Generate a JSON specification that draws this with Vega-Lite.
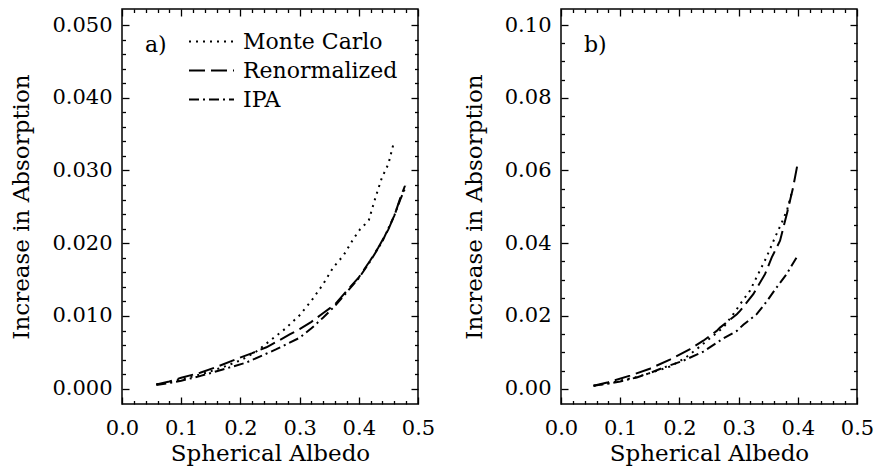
{
  "$schema": "https://vega.github.io/schema/vega-lite/v6.json",
  "background": "white",
  "padding": {"left": 10, "top": 7, "right": 5, "bottom": 0},
  "spacing": 143,
  "bounds": "flush",
  "config": {
    "view": {"stroke": "black", "strokeWidth": 1.5},
    "axis": {
      "grid": false,
      "domain": false,
      "tickColor": "black",
      "tickWidth": 1.3,
      "labelColor": "black",
      "titleColor": "black",
      "labelFont": "DejaVu Serif",
      "labelFontSize": 21,
      "titleFont": "DejaVu Serif",
      "titleFontSize": 23,
      "titleFontWeight": "normal",
      "labelOverlap": false,
      "labelFlush": false
    },
    "title": {"font": "DejaVu Serif", "fontSize": 22, "fontWeight": "normal", "color": "black"}
  },
  "datasets": {
    "a": [
      {"model": "Monte Carlo", "albedo": 0.058, "absorption": 0.0006},
      {"model": "Monte Carlo", "albedo": 0.08, "absorption": 0.0009},
      {"model": "Monte Carlo", "albedo": 0.10, "absorption": 0.0013},
      {"model": "Monte Carlo", "albedo": 0.125, "absorption": 0.0018},
      {"model": "Monte Carlo", "albedo": 0.15, "absorption": 0.0024},
      {"model": "Monte Carlo", "albedo": 0.175, "absorption": 0.0031},
      {"model": "Monte Carlo", "albedo": 0.20, "absorption": 0.0039},
      {"model": "Monte Carlo", "albedo": 0.225, "absorption": 0.0050},
      {"model": "Monte Carlo", "albedo": 0.25, "absorption": 0.0066},
      {"model": "Monte Carlo", "albedo": 0.275, "absorption": 0.0082},
      {"model": "Monte Carlo", "albedo": 0.30, "absorption": 0.0101},
      {"model": "Monte Carlo", "albedo": 0.32, "absorption": 0.0121},
      {"model": "Monte Carlo", "albedo": 0.34, "absorption": 0.0144},
      {"model": "Monte Carlo", "albedo": 0.357, "absorption": 0.0167},
      {"model": "Monte Carlo", "albedo": 0.374, "absorption": 0.0183},
      {"model": "Monte Carlo", "albedo": 0.391, "absorption": 0.0206},
      {"model": "Monte Carlo", "albedo": 0.402, "absorption": 0.0219},
      {"model": "Monte Carlo", "albedo": 0.413, "absorption": 0.0228},
      {"model": "Monte Carlo", "albedo": 0.417, "absorption": 0.0232},
      {"model": "Monte Carlo", "albedo": 0.429, "absorption": 0.0265},
      {"model": "Monte Carlo", "albedo": 0.439, "absorption": 0.0290},
      {"model": "Monte Carlo", "albedo": 0.450, "absorption": 0.0309},
      {"model": "Monte Carlo", "albedo": 0.459, "absorption": 0.0338},
      {"model": "Renormalized", "albedo": 0.058, "absorption": 0.0006},
      {"model": "Renormalized", "albedo": 0.08, "absorption": 0.0010},
      {"model": "Renormalized", "albedo": 0.10, "absorption": 0.0015},
      {"model": "Renormalized", "albedo": 0.132, "absorption": 0.0022},
      {"model": "Renormalized", "albedo": 0.16, "absorption": 0.0030},
      {"model": "Renormalized", "albedo": 0.194, "absorption": 0.0041},
      {"model": "Renormalized", "albedo": 0.22, "absorption": 0.0049},
      {"model": "Renormalized", "albedo": 0.244, "absorption": 0.0057},
      {"model": "Renormalized", "albedo": 0.26, "absorption": 0.0064},
      {"model": "Renormalized", "albedo": 0.284, "absorption": 0.0075},
      {"model": "Renormalized", "albedo": 0.30, "absorption": 0.0082},
      {"model": "Renormalized", "albedo": 0.32, "absorption": 0.0092},
      {"model": "Renormalized", "albedo": 0.34, "absorption": 0.0104},
      {"model": "Renormalized", "albedo": 0.36, "absorption": 0.0116},
      {"model": "Renormalized", "albedo": 0.38, "absorption": 0.0135},
      {"model": "Renormalized", "albedo": 0.40, "absorption": 0.0153},
      {"model": "Renormalized", "albedo": 0.419, "absorption": 0.0176},
      {"model": "Renormalized", "albedo": 0.433, "absorption": 0.0194},
      {"model": "Renormalized", "albedo": 0.45, "absorption": 0.0219},
      {"model": "Renormalized", "albedo": 0.461, "absorption": 0.0240},
      {"model": "Renormalized", "albedo": 0.4696, "absorption": 0.0261},
      {"model": "Renormalized", "albedo": 0.478, "absorption": 0.0279},
      {"model": "IPA", "albedo": 0.058, "absorption": 0.0005},
      {"model": "IPA", "albedo": 0.08, "absorption": 0.0008},
      {"model": "IPA", "albedo": 0.10, "absorption": 0.0011},
      {"model": "IPA", "albedo": 0.13, "absorption": 0.0017},
      {"model": "IPA", "albedo": 0.16, "absorption": 0.0024},
      {"model": "IPA", "albedo": 0.21, "absorption": 0.0036},
      {"model": "IPA", "albedo": 0.26, "absorption": 0.0054},
      {"model": "IPA", "albedo": 0.30, "absorption": 0.0070},
      {"model": "IPA", "albedo": 0.32, "absorption": 0.0083},
      {"model": "IPA", "albedo": 0.34, "absorption": 0.0098},
      {"model": "IPA", "albedo": 0.36, "absorption": 0.0114},
      {"model": "IPA", "albedo": 0.38, "absorption": 0.0133},
      {"model": "IPA", "albedo": 0.40, "absorption": 0.0152},
      {"model": "IPA", "albedo": 0.42, "absorption": 0.0176},
      {"model": "IPA", "albedo": 0.44, "absorption": 0.0203},
      {"model": "IPA", "albedo": 0.46, "absorption": 0.0238},
      {"model": "IPA", "albedo": 0.47, "absorption": 0.0260},
      {"model": "IPA", "albedo": 0.48, "absorption": 0.0279}
    ],
    "b": [
      {"model": "Monte Carlo", "albedo": 0.055, "absorption": 0.0008},
      {"model": "Monte Carlo", "albedo": 0.08, "absorption": 0.0015},
      {"model": "Monte Carlo", "albedo": 0.10, "absorption": 0.0022},
      {"model": "Monte Carlo", "albedo": 0.13, "absorption": 0.0033},
      {"model": "Monte Carlo", "albedo": 0.156, "absorption": 0.0046},
      {"model": "Monte Carlo", "albedo": 0.184, "absorption": 0.0061},
      {"model": "Monte Carlo", "albedo": 0.21, "absorption": 0.0085},
      {"model": "Monte Carlo", "albedo": 0.23, "absorption": 0.0110},
      {"model": "Monte Carlo", "albedo": 0.252, "absorption": 0.0139},
      {"model": "Monte Carlo", "albedo": 0.274, "absorption": 0.0168},
      {"model": "Monte Carlo", "albedo": 0.291, "absorption": 0.0205},
      {"model": "Monte Carlo", "albedo": 0.308, "absorption": 0.0245},
      {"model": "Monte Carlo", "albedo": 0.319, "absorption": 0.0269},
      {"model": "Monte Carlo", "albedo": 0.333, "absorption": 0.0315},
      {"model": "Monte Carlo", "albedo": 0.347, "absorption": 0.0361},
      {"model": "Monte Carlo", "albedo": 0.3615, "absorption": 0.0416},
      {"model": "Monte Carlo", "albedo": 0.373, "absorption": 0.0457},
      {"model": "Monte Carlo", "albedo": 0.382, "absorption": 0.0492},
      {"model": "Monte Carlo", "albedo": 0.39, "absorption": 0.0540},
      {"model": "Renormalized", "albedo": 0.055, "absorption": 0.0008},
      {"model": "Renormalized", "albedo": 0.08, "absorption": 0.0018},
      {"model": "Renormalized", "albedo": 0.1166, "absorption": 0.0036},
      {"model": "Renormalized", "albedo": 0.15, "absorption": 0.0055},
      {"model": "Renormalized", "albedo": 0.184, "absorption": 0.0080},
      {"model": "Renormalized", "albedo": 0.218, "absorption": 0.0109},
      {"model": "Renormalized", "albedo": 0.2404, "absorption": 0.0132},
      {"model": "Renormalized", "albedo": 0.263, "absorption": 0.0159},
      {"model": "Renormalized", "albedo": 0.2686, "absorption": 0.0168},
      {"model": "Renormalized", "albedo": 0.297, "absorption": 0.0205},
      {"model": "Renormalized", "albedo": 0.3024, "absorption": 0.0214},
      {"model": "Renormalized", "albedo": 0.3248, "absorption": 0.0260},
      {"model": "Renormalized", "albedo": 0.3446, "absorption": 0.0315},
      {"model": "Renormalized", "albedo": 0.356, "absorption": 0.0361},
      {"model": "Renormalized", "albedo": 0.370, "absorption": 0.0407},
      {"model": "Renormalized", "albedo": 0.382, "absorption": 0.0484},
      {"model": "Renormalized", "albedo": 0.392, "absorption": 0.0553},
      {"model": "Renormalized", "albedo": 0.399, "absorption": 0.0613},
      {"model": "IPA", "albedo": 0.055, "absorption": 0.0008},
      {"model": "IPA", "albedo": 0.08, "absorption": 0.0014},
      {"model": "IPA", "albedo": 0.10, "absorption": 0.0020},
      {"model": "IPA", "albedo": 0.128, "absorption": 0.0031},
      {"model": "IPA", "albedo": 0.15, "absorption": 0.0043},
      {"model": "IPA", "albedo": 0.173, "absorption": 0.0058},
      {"model": "IPA", "albedo": 0.2066, "absorption": 0.0077},
      {"model": "IPA", "albedo": 0.2404, "absorption": 0.0102},
      {"model": "IPA", "albedo": 0.274, "absorption": 0.0138},
      {"model": "IPA", "albedo": 0.297, "absorption": 0.0159},
      {"model": "IPA", "albedo": 0.308, "absorption": 0.0176},
      {"model": "IPA", "albedo": 0.3306, "absorption": 0.0205},
      {"model": "IPA", "albedo": 0.3474, "absorption": 0.0240},
      {"model": "IPA", "albedo": 0.364, "absorption": 0.0278},
      {"model": "IPA", "albedo": 0.381, "absorption": 0.0315},
      {"model": "IPA", "albedo": 0.398, "absorption": 0.0361}
    ]
  },
  "hconcat": [
    {
      "width": 296,
      "height": 395,
      "title": {"text": "a)", "anchor": "start", "frame": "group", "orient": "top", "offset": -49, "dx": 23},
      "layer": [
        {
          "data": {"name": "a"},
          "mark": {"type": "line", "color": "black", "strokeWidth": 2, "clip": true},
          "encoding": {
            "x": {"field": "albedo", "type": "quantitative",
              "scale": {"domain": [0, 0.5], "nice": false, "zero": false},
              "axis": {"orient": "bottom", "title": "Spherical Albedo", "values": [0, 0.1, 0.2, 0.3, 0.4, 0.5], "format": ".1f",
                "ticks": false, "labelPadding": 13, "titlePadding": 4}},
            "y": {"field": "absorption", "type": "quantitative",
              "scale": {"domain": [-0.0021, 0.0522], "nice": false, "zero": false},
              "axis": {"orient": "left", "title": "Increase in Absorption", "values": [0, 0.01, 0.02, 0.03, 0.04, 0.05], "format": ".3f",
                "ticks": false, "labelPadding": 10, "titlePadding": 18}},
            "strokeDash": {"field": "model", "type": "nominal",
              "scale": {"domain": ["Monte Carlo", "Renormalized", "IPA"], "range": [[2, 5], [16, 6], [10, 4, 2, 4]]},
              "legend": {"title": null, "orient": "none", "legendX": 66, "legendY": 19, "padding": 0,
                "symbolType": "stroke", "symbolSize": 2025, "symbolStrokeWidth": 2, "symbolStrokeColor": "black",
                "labelFont": "DejaVu Serif", "labelFontSize": 22, "labelColor": "black", "labelOffset": 8,
                "clipHeight": 27, "rowPadding": 2, "labelLimit": 300}}
          }
        },
        {
          "data": {"name": "a"},
          "mark": {"type": "point", "opacity": 0},
          "encoding": {
            "x": {"field": "albedo", "type": "quantitative",
              "axis": {"orient": "bottom", "title": null, "labels": false, "values": [0, 0.1, 0.2, 0.3, 0.4, 0.5], "tickSize": 7, "offset": -7}},
            "y": {"field": "absorption", "type": "quantitative",
              "axis": {"orient": "left", "title": null, "labels": false, "values": [0, 0.01, 0.02, 0.03, 0.04, 0.05], "tickSize": 7, "offset": -7}}
          }
        },
        {
          "data": {"name": "a"},
          "mark": {"type": "point", "opacity": 0},
          "encoding": {
            "x": {"field": "albedo", "type": "quantitative",
              "axis": {"orient": "top", "title": null, "labels": false, "values": [0, 0.1, 0.2, 0.3, 0.4, 0.5], "tickSize": 7, "offset": -7}},
            "y": {"field": "absorption", "type": "quantitative",
              "axis": {"orient": "right", "title": null, "labels": false, "values": [0, 0.01, 0.02, 0.03, 0.04, 0.05], "tickSize": 7, "offset": -7}}
          }
        },
        {
          "data": {"name": "a"},
          "mark": {"type": "point", "opacity": 0},
          "encoding": {
            "x": {"field": "albedo", "type": "quantitative",
              "axis": {"orient": "bottom", "title": null, "labels": false, "tickSize": 3.5, "offset": -3.5,
                "values": [0.02,0.04,0.06,0.08,0.12,0.14,0.16,0.18,0.22,0.24,0.26,0.28,0.32,0.34,0.36,0.38,0.42,0.44,0.46,0.48]}},
            "y": {"field": "absorption", "type": "quantitative",
              "axis": {"orient": "left", "title": null, "labels": false, "tickSize": 3.5, "offset": -3.5,
                "values": [0.002,0.004,0.006,0.008,0.012,0.014,0.016,0.018,0.022,0.024,0.026,0.028,0.032,0.034,0.036,0.038,0.042,0.044,0.046,0.048]}}
          }
        },
        {
          "data": {"name": "a"},
          "mark": {"type": "point", "opacity": 0},
          "encoding": {
            "x": {"field": "albedo", "type": "quantitative",
              "axis": {"orient": "top", "title": null, "labels": false, "tickSize": 3.5, "offset": -3.5,
                "values": [0.02,0.04,0.06,0.08,0.12,0.14,0.16,0.18,0.22,0.24,0.26,0.28,0.32,0.34,0.36,0.38,0.42,0.44,0.46,0.48]}},
            "y": {"field": "absorption", "type": "quantitative",
              "axis": {"orient": "right", "title": null, "labels": false, "tickSize": 3.5, "offset": -3.5,
                "values": [0.002,0.004,0.006,0.008,0.012,0.014,0.016,0.018,0.022,0.024,0.026,0.028,0.032,0.034,0.036,0.038,0.042,0.044,0.046,0.048]}}
          }
        }
      ],
      "resolve": {"axis": {"x": "independent", "y": "independent"}}
    },
    {
      "width": 296,
      "height": 395,
      "title": {"text": "b)", "anchor": "start", "frame": "group", "orient": "top", "offset": -49, "dx": 23},
      "layer": [
        {
          "data": {"name": "b"},
          "mark": {"type": "line", "color": "black", "strokeWidth": 2, "clip": true},
          "encoding": {
            "x": {"field": "albedo", "type": "quantitative",
              "scale": {"domain": [0, 0.5], "nice": false, "zero": false},
              "axis": {"orient": "bottom", "title": "Spherical Albedo", "values": [0, 0.1, 0.2, 0.3, 0.4, 0.5], "format": ".1f",
                "ticks": false, "labelPadding": 13, "titlePadding": 4}},
            "y": {"field": "absorption", "type": "quantitative",
              "scale": {"domain": [-0.0042, 0.1044], "nice": false, "zero": false},
              "axis": {"orient": "left", "title": "Increase in Absorption", "values": [0, 0.02, 0.04, 0.06, 0.08, 0.1], "format": ".2f",
                "ticks": false, "labelPadding": 10, "titlePadding": 18}},
            "strokeDash": {"field": "model", "type": "nominal",
              "scale": {"domain": ["Monte Carlo", "Renormalized", "IPA"], "range": [[2, 5], [16, 6], [10, 4, 2, 4]]},
              "legend": null}
          }
        },
        {
          "data": {"name": "b"},
          "mark": {"type": "point", "opacity": 0},
          "encoding": {
            "x": {"field": "albedo", "type": "quantitative",
              "axis": {"orient": "bottom", "title": null, "labels": false, "values": [0, 0.1, 0.2, 0.3, 0.4, 0.5], "tickSize": 7, "offset": -7}},
            "y": {"field": "absorption", "type": "quantitative",
              "axis": {"orient": "left", "title": null, "labels": false, "values": [0, 0.02, 0.04, 0.06, 0.08, 0.1], "tickSize": 7, "offset": -7}}
          }
        },
        {
          "data": {"name": "b"},
          "mark": {"type": "point", "opacity": 0},
          "encoding": {
            "x": {"field": "albedo", "type": "quantitative",
              "axis": {"orient": "top", "title": null, "labels": false, "values": [0, 0.1, 0.2, 0.3, 0.4, 0.5], "tickSize": 7, "offset": -7}},
            "y": {"field": "absorption", "type": "quantitative",
              "axis": {"orient": "right", "title": null, "labels": false, "values": [0, 0.02, 0.04, 0.06, 0.08, 0.1], "tickSize": 7, "offset": -7}}
          }
        },
        {
          "data": {"name": "b"},
          "mark": {"type": "point", "opacity": 0},
          "encoding": {
            "x": {"field": "albedo", "type": "quantitative",
              "axis": {"orient": "bottom", "title": null, "labels": false, "tickSize": 3.5, "offset": -3.5,
                "values": [0.02,0.04,0.06,0.08,0.12,0.14,0.16,0.18,0.22,0.24,0.26,0.28,0.32,0.34,0.36,0.38,0.42,0.44,0.46,0.48]}},
            "y": {"field": "absorption", "type": "quantitative",
              "axis": {"orient": "left", "title": null, "labels": false, "tickSize": 3.5, "offset": -3.5,
                "values": [0.005,0.01,0.015,0.025,0.03,0.035,0.045,0.05,0.055,0.065,0.07,0.075,0.085,0.09,0.095]}}
          }
        },
        {
          "data": {"name": "b"},
          "mark": {"type": "point", "opacity": 0},
          "encoding": {
            "x": {"field": "albedo", "type": "quantitative",
              "axis": {"orient": "top", "title": null, "labels": false, "tickSize": 3.5, "offset": -3.5,
                "values": [0.02,0.04,0.06,0.08,0.12,0.14,0.16,0.18,0.22,0.24,0.26,0.28,0.32,0.34,0.36,0.38,0.42,0.44,0.46,0.48]}},
            "y": {"field": "absorption", "type": "quantitative",
              "axis": {"orient": "right", "title": null, "labels": false, "tickSize": 3.5, "offset": -3.5,
                "values": [0.005,0.01,0.015,0.025,0.03,0.035,0.045,0.05,0.055,0.065,0.07,0.075,0.085,0.09,0.095]}}
          }
        }
      ],
      "resolve": {"axis": {"x": "independent", "y": "independent"}}
    }
  ]
}
